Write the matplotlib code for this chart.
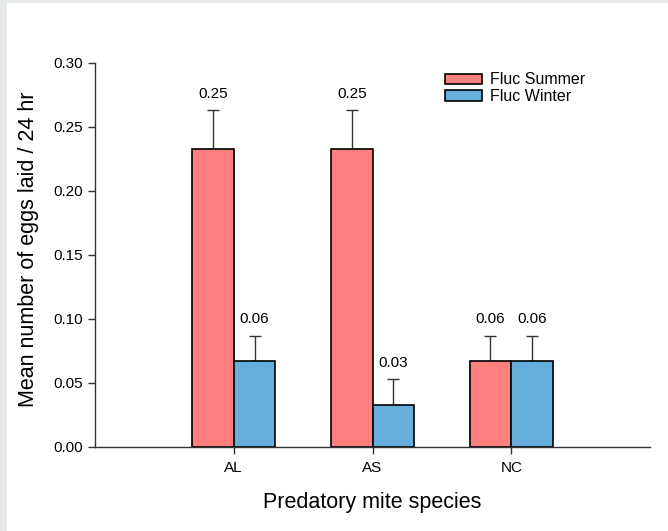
import matplotlib
matplotlib.use("Agg")
import matplotlib.pyplot as plt
import numpy as np

categories = ["AL", "AS", "NC"]
summer = [0.233, 0.233, 0.067]
summer_err = [0.030, 0.030, 0.020]
winter = [0.067, 0.033, 0.067]
winter_err = [0.020, 0.020, 0.020]
summer_labels = ["0.25", "0.25", "0.06"]
winter_labels = ["0.06", "0.03", "0.06"]
yticks = [0.00, 0.05, 0.10, 0.15, 0.20, 0.25, 0.30]

plt.rcParams['font.family'] = ['Liberation Sans', 'DejaVu Sans']

fig = plt.figure(figsize=(6.68, 5.31), dpi=100, facecolor="#e6e9ea")
# white panel
fig.patches.append(plt.Rectangle((7/668, 0), 1, 1 - 3/531, transform=fig.transFigure,
                                 facecolor="white", edgecolor="none", zorder=-10))
ax = fig.add_axes([95/668, 1 - 447/531, (650-95)/668, (447-63)/531])
ax.set_facecolor("none")

x = np.arange(1, len(categories) + 1)
w = 0.3
c_s = "#ff7f7f"
c_w = "#66aedb"
ax.bar(x - w/2, summer, w, color=c_s, edgecolor="black", linewidth=1.2, label="Fluc Summer", zorder=2)
ax.bar(x + w/2, winter, w, color=c_w, edgecolor="black", linewidth=1.2, label="Fluc Winter", zorder=2)
ax.errorbar(x - w/2, summer, yerr=[np.zeros(3), summer_err], fmt="none", ecolor="#333333",
            elinewidth=1.0, capsize=4.3, capthick=1.0, zorder=1)
ax.errorbar(x + w/2, winter, yerr=[np.zeros(3), winter_err], fmt="none", ecolor="#333333",
            elinewidth=1.0, capsize=4.3, capthick=1.0, zorder=1)

for xi, v, e, lab in zip(x - w/2, summer, summer_err, summer_labels):
    ax.text(xi, v + e + 0.0075, lab, ha="center", va="bottom", fontsize=11)
for xi, v, e, lab in zip(x + w/2, winter, winter_err, winter_labels):
    ax.text(xi, v + e + 0.0075, lab, ha="center", va="bottom", fontsize=11)

ax.set_xlim(0, 4)
ax.set_ylim(0, 0.30)
ax.set_xticks(x)
ax.set_xticklabels(categories, fontsize=11)
ax.set_yticks(yticks)
ax.set_yticklabels([f"{t:.2f}" for t in yticks], fontsize=11)
ax.tick_params(direction="out", length=5, width=1.0, color="#333333")
ax.tick_params(axis="y", pad=4)
ax.tick_params(axis="x", pad=5)
for s in ["top", "right"]:
    ax.spines[s].set_visible(False)
for s in ["left", "bottom"]:
    ax.spines[s].set_linewidth(1.0)
    ax.spines[s].set_color("#333333")

ax.set_xlabel("Predatory mite species", fontsize=15.5, labelpad=12)
ax.set_ylabel("Mean number of eggs laid / 24 hr", fontsize=15.5)
ax.yaxis.set_label_coords(-56/555, 0.516)

leg = ax.legend(loc="upper left", bbox_to_anchor=(0.62, 0.992), frameon=False, fontsize=11.5,
                handlelength=2.3, handleheight=0.62, handletextpad=0.5, labelspacing=0.1,
                borderaxespad=0.0)

fig.savefig("out.png", dpi=100, facecolor=fig.get_facecolor())
